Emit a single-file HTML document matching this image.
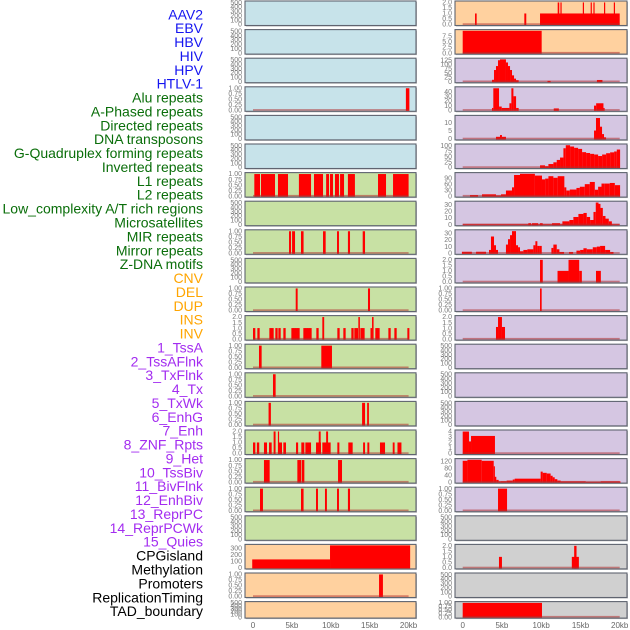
<!DOCTYPE html>
<html><head><meta charset="utf-8"><style>
html,body{margin:0;padding:0;background:#fff;}
svg{display:block;font-family:"Liberation Sans",sans-serif;}
</style></head><body>
<svg id="chart" width="630" height="630" viewBox="0 0 630 630" xmlns="http://www.w3.org/2000/svg"></svg>
<script>
// ---- labels ----
const labelNames = ["AAV2","EBV","HBV","HIV","HPV","HTLV-1","Alu repeats","A-Phased repeats","Directed repeats","DNA transposons","G-Quadruplex forming repeats","Inverted repeats","L1 repeats","L2 repeats","Low_complexity A/T rich regions","Microsatellites","MIR repeats","Mirror repeats","Z-DNA motifs","CNV","DEL","DUP","INS","INV","1_TssA","2_TssAFlnk","3_TxFlnk","4_Tx","5_TxWk","6_EnhG","7_Enh","8_ZNF_Rpts","9_Het","10_TssBiv","11_BivFlnk","12_EnhBiv","13_ReprPC","14_ReprPCWk","15_Quies","CPGisland","Methylation","Promoters","ReplicationTiming","TAD_boundary"];
const labelGroups = [6,13,5,15,5];
const groupColors = ["#1515f0","#0a6e0a","#ffa500","#a32cf0","#000000"];
const xTicks = [0,5,10,15,20];
const xTickLabels = ["0","5kb","10kb","15kb","20kb"];

// ---- tick sets ----
const T500=[0,100,200,300,400,500], T1=[0,0.25,0.5,0.75,1], T2=[0,0.5,1,1.5,2];

// ---- left column segments [startKb,endKb,value] ----
const L3=[[19.65,20.1,1]];
const L6=[[0.17,0.9,1],[1.03,2.83,1],[3.21,4.5,1],[5.9,7.46,1],[7.84,9.0,1],[9.4,9.77,1],[9.9,10.28,1],[10.54,11.05,1],[11.19,11.7,1],[12.2,13.1,1],[16.07,17.1,1],[18.0,20.0,1]];
const L8=[[4.63,4.89,1],[5.02,5.4,1],[6.17,6.5,1],[9.0,9.34,1],[10.8,11.05,1],[12.2,12.47,1],[14.1,14.4,1]];
const L10=[[5.49,5.74,1],[14.78,15.04,1]];
const L11=[[0,0.3,1],[0.56,0.86,1],[2.1,2.4,1],[2.36,2.66,1],[2.87,3.17,1],[3.26,3.56,1],[3.9,4.2,1],[4.93,5.23,1],[5.18,5.48,1],[5.44,5.74,1],[5.7,6.0,1],[6.47,6.77,1],[6.73,7.03,1],[6.98,7.28,1],[7.24,7.54,1],[8.14,8.44,1],[8.91,9.15,2],[10.84,11.14,1],[11.61,11.91,1],[12.64,12.94,1],[13.02,13.32,1],[13.28,13.5,1],[13.54,13.74,2],[13.8,14.1,1],[14.05,14.35,1],[15.1,15.3,1],[15.3,15.5,2],[15.72,16.02,1],[15.98,16.28,1],[17.4,17.7,1],[18.17,18.47,1],[19.84,20.1,1]];
const L12=[[0.77,1.11,1],[8.78,10.15,1]];
const L13=[[2.57,2.91,1]];
const L14=[[2.0,2.3,1],[14.02,14.4,1],[14.67,14.9,1]];
const L15=[[0,0.3,1],[0.5,0.8,1],[1.41,1.8,1],[2.06,2.4,1],[2.65,2.9,2],[3.2,3.34,2],[3.34,3.73,1],[3.9,4.24,1],[5.53,5.8,1],[6.21,6.6,1],[6.73,7.46,1],[8.1,8.74,1],[8.45,8.7,2],[8.91,9.98,1],[9.4,9.65,2],[10.84,11.1,1],[12.25,12.81,1],[14.15,14.4,1],[14.7,14.95,1],[16.32,16.97,1],[17.96,18.2,1],[18.57,19.08,1]];
const L16=[[1.41,2.14,1],[5.7,6.17,1],[6.25,6.6,1],[10.93,11.44,1]];
const L17=[[0.9,1.28,1],[6.17,6.5,1],[8.1,8.35,1],[9.25,9.5,1],[10.8,11.05,1],[12.2,12.47,1]];
const L19=[[-0.1,9.9,130],[9.9,20.2,345]];
const L20=[[16.2,16.7,1]];

// ---- right column segments ----
const R0=[[1.57,1.78,1],[7.85,8.1,1],[9.85,20.0,1],[12.1,12.3,2],[12.45,12.6,2],[15.3,15.45,2],[16.3,16.45,2],[16.65,16.8,2],[18.0,18.15,2],[19.25,19.4,2]];
const R1=[[0,10.06,10]];
const R2=[[3.73,3.99,11],[3.99,4.24,68],[4.24,4.5,91],[4.5,4.75,125],[4.75,5.51,130],[5.51,5.77,112],[5.77,6.03,91],[6.03,6.28,68],[6.28,6.54,37],[6.54,6.79,18],[6.79,7.13,9],[10.8,11.2,5],[17.1,17.8,10]];
const R3=[[3.73,3.9,5],[3.9,4.63,47],[4.63,4.97,8],[4.97,5.95,5],[5.95,6.2,15],[6.2,6.46,47],[6.46,6.8,30],[6.8,7.13,5],[11.6,12.25,4],[16.73,17.0,10],[17.0,17.93,15],[17.93,18.05,5]];
const R4=[[4.24,4.75,1.3],[4.75,5.0,2.4],[5.0,5.51,1.3],[16.73,16.98,5.2],[16.98,17.49,13],[17.49,17.75,7.6],[17.75,18.0,3],[18.0,18.26,1]];
const R5=[[9.85,10.49,10],[10.49,10.92,6],[10.92,11.55,16],[11.55,11.98,24],[11.98,12.4,35],[12.4,12.83,46],[12.83,13.13,89],[13.13,13.68,103],[13.68,14.19,97],[14.19,14.7,91],[14.7,15.21,86],[15.21,15.72,71],[15.72,16.23,67],[16.23,16.74,63],[16.74,17.25,60],[17.25,17.76,53],[17.76,18.27,60],[18.27,18.78,66],[18.78,19.29,70],[19.29,19.63,74],[19.63,20.05,83]];
const R6=[[0.93,1.95,5],[2.46,4.24,9],[4.24,4.88,3],[4.88,5.51,9],[5.51,6.28,28],[6.28,6.54,44],[6.54,7.3,106],[7.3,9.2,112],[9.2,10.1,103],[10.1,10.5,84],[10.5,10.92,88],[10.92,11.55,100],[11.55,12.1,92],[12.1,12.95,100],[12.95,13.2,44],[13.2,13.64,28],[13.64,14.49,33],[14.49,14.92,41],[14.92,15.55,47],[15.55,16.19,60],[16.19,16.83,71],[16.83,17.25,32],[17.25,17.68,47],[17.68,18.1,63],[18.1,18.74,63],[18.74,19.38,66],[19.38,20.05,55]];
const R7=[[0,20,0.6],[8.36,8.7,2.3],[8.83,9.6,2.3],[9.85,10.19,2.3],[11.38,12.4,2.3],[12.7,13.59,5],[13.59,14.1,7],[14.1,14.74,11.5],[14.74,15.38,16],[15.38,15.8,17.5],[15.8,16.23,11.5],[16.23,16.66,7],[16.66,16.95,19],[16.95,17.3,33],[17.3,17.55,31],[17.55,17.85,25],[17.85,18.19,13],[18.19,18.61,9],[18.61,19.0,5]];
const R8=[[-0.1,1.17,2.3],[1.7,2.97,2.3],[3.35,3.6,5],[3.6,3.99,25],[3.99,4.24,12],[4.24,4.5,5],[5.51,5.77,13],[5.77,6.03,21],[6.03,6.28,27],[6.28,6.79,33],[6.79,7.05,12],[7.05,7.3,9],[7.3,7.73,3],[7.73,8.24,5],[8.24,9.0,6],[9.0,9.26,12],[9.26,9.51,18],[9.51,9.77,11],[9.77,10.07,11],[11.3,11.55,8],[11.55,11.98,13],[11.98,12.32,6],[12.32,12.91,2],[13.55,14.06,2],[14.49,14.96,4],[14.96,15.38,5],[15.38,15.8,7.5],[15.8,16.57,6],[16.57,17.08,9],[17.08,17.5,10],[17.5,18.14,11],[18.14,18.78,5],[18.78,19.21,2]];
const R9=[[9.85,10.2,2],[12.08,13.48,1],[13.48,14.84,2],[14.84,15.18,1],[16.98,17.6,1]];
const R10=[[9.85,10.06,1]];
const R11=[[4.24,4.5,1.1],[4.5,5.0,2],[5.0,5.39,1.1]];
const R15=[[0,0.8,4],[0.8,1.06,2.2],[1.06,4.11,3.2]];
const R16=[[0,0.6,124],[0.6,2.42,130],[2.42,3.95,124],[3.95,4.07,92],[4.07,4.28,31],[4.28,4.58,13],[4.58,4.84,4],[4.84,5.6,5],[5.6,6.37,9],[6.37,6.62,15],[6.62,9.93,20],[9.93,10.19,61],[10.19,10.7,54],[10.7,11.2,50],[11.2,11.46,37],[11.46,11.72,28],[11.72,12.06,17],[12.06,12.48,9],[12.48,15.67,4],[15.67,17.58,1],[17.58,20.1,4]];
const R17=[[4.5,5.65,1]];
const R19=[[4.62,5.0,1],[13.9,14.8,1],[14.2,14.5,2]];
const R21=[[0,10.1,1]];

const C_BLUE="#c7e3ea", C_GREEN="#c8e1a4", C_ORANGE="#ffd19f", C_PURPLE="#d5c6e2", C_GRAY="#d0d0d0";

// panel specs: [bg, ticks, ymax, decimals, data, baseline]
const leftPanels=[
 [C_BLUE,T500,515,0,null,false],[C_BLUE,T500,515,0,null,false],[C_BLUE,T500,515,0,null,false],
 [C_BLUE,T1,1.02,2,L3,true],[C_BLUE,T500,515,0,null,false],[C_BLUE,T500,515,0,null,false],
 [C_GREEN,T1,1.02,2,L6,true],[C_GREEN,T500,515,0,null,false],[C_GREEN,T1,1.02,2,L8,true],
 [C_GREEN,T500,515,0,null,false],[C_GREEN,T1,1.02,2,L10,true],[C_GREEN,T2,2.04,1,L11,true],
 [C_GREEN,T1,1.02,2,L12,true],[C_GREEN,T1,1.02,2,L13,true],[C_GREEN,T1,1.02,2,L14,true],
 [C_GREEN,T2,2.04,1,L15,true],[C_GREEN,T1,1.02,2,L16,true],[C_GREEN,T1,1.02,2,L17,true],
 [C_GREEN,T500,515,0,null,false],[C_ORANGE,[0,100,200,300],345,0,L19,false],
 [C_ORANGE,T1,1.02,2,L20,true],[C_ORANGE,T500,515,0,null,false]
];
const rightPanels=[
 [C_ORANGE,T2,2.04,1,R0,true],[C_ORANGE,[0,2.5,5,7.5],10.1,1,R1,true],
 [C_PURPLE,[0,25,50,75,100,125],131,0,R2,true],[C_PURPLE,[0,10,20,30,40],48,0,R3,true],
 [C_PURPLE,[0,5,10],14,0,R4,true],[C_PURPLE,[0,25,50,75,100],104,0,R5,true],
 [C_PURPLE,[0,30,60,90],113,0,R6,true],[C_PURPLE,[0,10,20,30],33.5,0,R7,true],
 [C_PURPLE,[0,10,20,30],33.5,0,R8,true],[C_PURPLE,T2,2.04,1,R9,true],
 [C_PURPLE,T1,1.02,2,R10,true],[C_PURPLE,T2,2.04,1,R11,true],
 [C_PURPLE,T500,515,0,null,false],[C_PURPLE,T500,515,0,null,false],[C_PURPLE,T500,515,0,null,false],
 [C_PURPLE,[0,1,2,3,4],4.1,0,R15,true],[C_PURPLE,[0,40,80,120],131,0,R16,true],
 [C_PURPLE,T1,1.02,2,R17,true],[C_GRAY,T500,515,0,null,false],[C_GRAY,T2,2.04,1,R19,true],
 [C_GRAY,T500,515,0,null,false],[C_GRAY,T1,1.02,2,R21,true]
];

const NS="http://www.w3.org/2000/svg";
const svg=document.getElementById('chart');
function mk(tag,attrs,parent){const e=document.createElementNS(NS,tag);for(const k in attrs)e.setAttribute(k,attrs[k]);(parent||svg).appendChild(e);return e;}

// labels
let idx=0;
labelGroups.forEach((n,g)=>{
  for(let j=0;j<n;j++){
    const t=mk('text',{x:203,y:(19.3+13.88*idx).toFixed(1),'text-anchor':'end','font-size':'14',fill:groupColors[g]});
    t.textContent=labelNames[idx];
    
    
    idx++;
  }
});

function rowTop(k){return 1+28.6*k;}
function rowH(k){return k===21?16.5:24.5;}

function drawPanel(spec,k,side){
  const [bg,ticks,ymax,dec,data,base]=spec;
  const x0=side===0?245:455, x1=side===0?416:627;
  const kb0=side===0?253:462.7, pk=side===0?7.78:7.85;
  const xs=kb=>kb0+kb*pk;
  const top=rowTop(k), h=rowH(k), bot=top+h;
  const ys=v=>(bot-1)-(v/ymax)*(h-2);
  const g=mk('g',{});
  
  
  mk('rect',{x:x0+1,y:top+1,width:x1-x0,height:h,fill:'#bbb'},g);
  mk('rect',{x:x0,y:top,width:x1-x0,height:h,fill:bg,stroke:'#5f6470','stroke-width':1.1},g);
  if(data){
    data.forEach(s=>{
      const a=Math.max(xs(s[0]),x0+0.5), b=Math.min(xs(s[1]),x1-0.5);
      const y=Math.max(ys(s[2]),top+0.5);
      const r=mk('rect',{x:a.toFixed(2),y:y.toFixed(2),width:Math.max(b-a,1.2).toFixed(2),height:(bot-0.5-y).toFixed(2),fill:'#ff0000'},g);
      
      
    });
  }
  if(base){
    mk('rect',{x:xs(0),y:bot-2.2,width:xs(20)-xs(0),height:1.6,fill:'#b03030','fill-opacity':0.55},g);
  }
  ticks.forEach(v=>{
    const t=mk('text',{x:x0-3,y:(ys(v)+2.2).toFixed(1),'text-anchor':'end','font-size':'7',fill:'#7a7a7a'},g);
    t.textContent=v.toFixed(dec);
    
    
  });
}
leftPanels.forEach((p,k)=>drawPanel(p,k,0));
rightPanels.forEach((p,k)=>drawPanel(p,k,1));

// x axes
[[253,7.78],[462.7,7.85]].forEach(([kb0,pk])=>{
  xTicks.forEach((v,i)=>{
    const t=mk('text',{x:(kb0+v*pk).toFixed(1),y:628,'text-anchor':'middle','font-size':'8',fill:'#666'});
    t.textContent=xTickLabels[i];
    
    
  });
});
</script>
</body></html>
